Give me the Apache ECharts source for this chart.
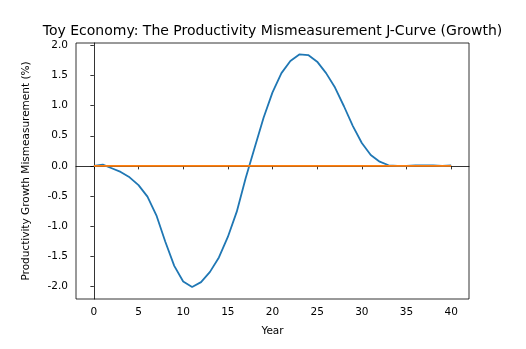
<!DOCTYPE html>
<html>
<head>
<meta charset="utf-8">
<script src="https://cdn.jsdelivr.net/npm/echarts@6/dist/echarts.min.js"></script>
<style>html,body{margin:0;padding:0;background:#fff;}#c{width:526px;height:349px;}</style>
</head>
<body>
<div id="c"></div>
<script>
const years = [];
for (let i = 0; i <= 40; i++) years.push(i);
const mismeasurement = [0.0, 0.02, -0.04, -0.1, -0.19, -0.32, -0.51, -0.82, -1.26, -1.66, -1.92,
  -2.01, -1.93, -1.76, -1.52, -1.18, -0.76, -0.2, 0.3, 0.8, 1.22,
  1.54, 1.74, 1.85, 1.84, 1.73, 1.54, 1.3, 0.99, 0.66, 0.38,
  0.18, 0.07, 0.01, 0.0, 0.0, 0.01, 0.01, 0.01, 0.0, 0.01];
const zeroLine = [0,0,0,0,0,0,0,0,0,0,0,0,0,0,0,0,0,0,0,0,0,0,0,0,0,0,0,0,0,0,0,0,0,0,0,0,0,0,0,0,0];
const xTicks = [0, 5, 10, 15, 20, 25, 30, 35, 40];
const yTicks = [-2.0, -1.5, -1.0, -0.5, 0.0, 0.5, 1.0, 1.5, 2.0];
const titleText = 'Toy Economy: The Productivity Mismeasurement J-Curve (Growth)';

const font = 'DejaVu Sans';
const chart = echarts.init(document.getElementById('c'), null, {renderer: 'canvas'});
chart.setOption({
  animation: false,
  backgroundColor: '#fff',
  title: {
    text: titleText, left: 272.5, top: 24, padding: 0, textAlign: 'center',
    textStyle: {fontFamily: font, fontSize: 14, fontWeight: 'normal', color: '#000'}
  },
  grid: {left: 76, right: 57, top: 43, bottom: 50, show: true, borderColor: '#000', borderWidth: 0.8, containLabel: false},
  xAxis: {
    type: 'value', min: -2, max: 42,
    name: 'Year', nameLocation: 'middle', nameGap: 27,
    nameTextStyle: {fontFamily: font, fontSize: 10.5, color: '#000'},
    axisLine: {show: true, lineStyle: {color: '#000', width: 0.8}},
    axisTick: {show: true, length: 3.5, lineStyle: {color: '#000', width: 0.8}, customValues: xTicks},
    axisLabel: {fontFamily: font, fontSize: 10.5, color: '#000', margin: 8, customValues: xTicks,
      formatter: v => String(v)},
    splitLine: {show: false}
  },
  yAxis: {
    type: 'value', min: -2.21, max: 2.04,
    name: 'Productivity Growth Mismeasurement (%)', nameLocation: 'middle', nameGap: 44,
    nameTextStyle: {fontFamily: font, fontSize: 10.5, color: '#000'},
    axisLine: {show: true, lineStyle: {color: '#000', width: 0.8}},
    axisTick: {show: true, length: 3.5, lineStyle: {color: '#000', width: 0.8}, customValues: yTicks},
    axisLabel: {fontFamily: font, fontSize: 10.5, color: '#000', margin: 8, customValues: yTicks,
      formatter: v => v.toFixed(1)},
    splitLine: {show: false}
  },
  series: [
    {type: 'line', data: years.map((y, i) => [y, mismeasurement[i]]), showSymbol: false,
      lineStyle: {color: '#1f77b4', width: 1.8}, itemStyle: {color: '#1f77b4'}},
    {type: 'line', data: years.map((y, i) => [y, zeroLine[i]]), showSymbol: false,
      lineStyle: {color: '#ff7f0e', width: 1.8}, itemStyle: {color: '#ff7f0e'}}
  ]
});
</script>
</body>
</html>
